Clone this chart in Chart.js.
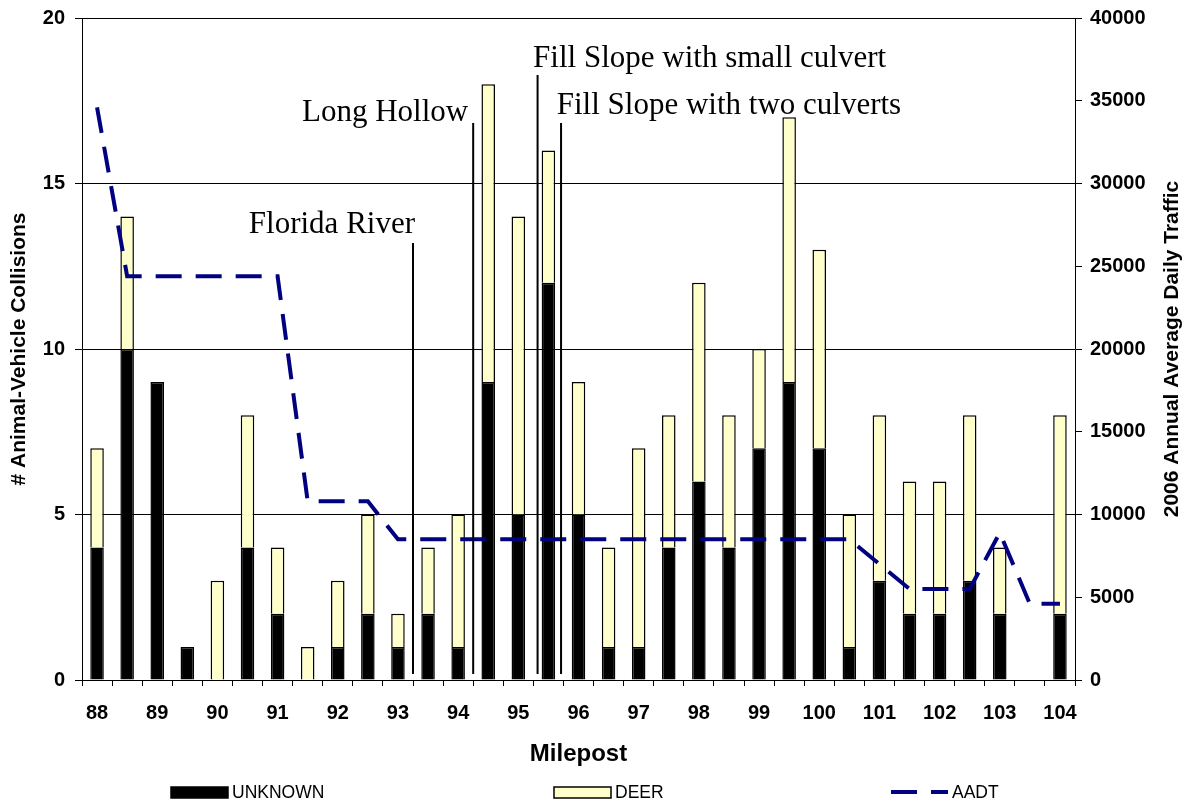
<!DOCTYPE html>
<html><head><meta charset="utf-8">
<script src="https://cdn.jsdelivr.net/npm/chart.js@4.4.0/dist/chart.umd.min.js"></script>
<style>
html,body{margin:0;padding:0;background:#fff;}
canvas{display:block;}
</style></head><body>
<canvas id="c" width="1185" height="803"></canvas>
<script>
// ---- data ----
const mileposts = ['88','88.5','89','89.5','90','90.5','91','91.5','92','92.5','93','93.5','94','94.5','95','95.5','96','96.5','97','97.5','98','98.5','99','99.5','100','100.5','101','101.5','102','102.5','103','103.5','104'];
const unknownCounts = [4,10,9,1,0,4,2,0,1,2,1,2,1,9,5,12,5,1,1,4,6,4,7,9,7,1,3,2,2,3,2,0,2];
const deerCounts    = [3,4,0,0,3,4,2,1,2,3,1,2,4,9,9,4,4,3,6,4,6,4,3,8,6,4,5,4,4,5,2,0,6];
const aadtValues    = [34600,24400,24400,24400,24400,24400,24400,10800,10800,10800,8500,8500,8500,8500,8500,8500,8500,8500,8500,8500,8500,8500,8500,8500,8500,8500,7000,5500,5500,5500,8900,4600,4600];
const leftTicks  = [0,5,10,15,20];
const rightTicks = [0,5000,10000,15000,20000,25000,30000,35000,40000];
const siteLabels    = ['Florida River','Long Hollow','Fill Slope with small culvert','Fill Slope with two culverts'];
const siteMileposts = [93.25, 94.25, 95.32, 95.71];
const siteTops      = [13.2, 16.83, 18.28, 16.83];
const siteBottom    = 0.18;

const SANS = '"Liberation Sans", Arial, sans-serif';
const SERIF = '"Liberation Serif", "Times New Roman", serif';
const NAVY = '#000080';
const DEER = '#FFFFCC';

const siteLabelStyle = [
  {align:'right', dx: 2, dy: -10},
  {align:'right', dx: -5, dy: -2},
  {align:'left', dx: -4.5, dy: -8},
  {align:'left', dx: -4.3, dy: -9}
];

const annotationPlugin = {
  id: 'sites',
  afterDatasetsDraw(chart) {
    const ctx = chart.ctx, xs = chart.scales.x, ys = chart.scales.y;
    const first = parseFloat(mileposts[0]), step = parseFloat(mileposts[1]) - first;
    ctx.save();
    ctx.strokeStyle = '#000';
    ctx.lineWidth = 2;
    ctx.fillStyle = '#000';
    ctx.font = '31px ' + SERIF;
    ctx.textBaseline = 'alphabetic';
    siteLabels.forEach((lab, i) => {
      const x = xs.getPixelForValue((siteMileposts[i] - first) / step);
      const yTop = ys.getPixelForValue(siteTops[i]);
      const yBot = ys.getPixelForValue(siteBottom);
      ctx.beginPath();
      ctx.moveTo(x, yTop);
      ctx.lineTo(x, yBot);
      ctx.stroke();
      const st = siteLabelStyle[i];
      ctx.textAlign = st.align;
      ctx.fillText(lab, x + st.dx, yTop + st.dy);
    });
    ctx.restore();
  }
};

const extrasPlugin = {
  id: 'extras',
  afterDraw(chart) {
    const ctx = chart.ctx, ca = chart.chartArea;
    ctx.save();
    // right axis title, reading bottom-to-top
    ctx.translate(1172, (ca.top + ca.bottom) / 2);
    ctx.rotate(-Math.PI / 2);
    ctx.font = 'bold 21px ' + SANS;
    ctx.fillStyle = '#000';
    ctx.textAlign = 'center';
    ctx.textBaseline = 'middle';
    ctx.fillText('2006 Annual Average Daily Traffic', 0, 0);
    ctx.restore();

    // legend
    const items = [
      {x: 171, ds: chart.data.datasets[1]},
      {x: 554, ds: chart.data.datasets[2]},
      {x: 891, ds: chart.data.datasets[0]}
    ];
    ctx.save();
    ctx.font = '17.5px ' + SANS;
    ctx.textBaseline = 'alphabetic';
    ctx.textAlign = 'left';
    items.forEach(it => {
      const ds = it.ds;
      if (ds.type === 'line') {
        ctx.strokeStyle = ds.borderColor;
        ctx.lineWidth = ds.borderWidth;
        ctx.setLineDash(ds.borderDash);
        ctx.beginPath();
        ctx.moveTo(it.x, 792);
        ctx.lineTo(it.x + 57, 792);
        ctx.stroke();
        ctx.setLineDash([]);
      } else {
        ctx.fillStyle = ds.backgroundColor;
        ctx.fillRect(it.x, 787, 57, 11);
        ctx.strokeStyle = '#000';
        ctx.lineWidth = 1.5;
        ctx.strokeRect(it.x, 787, 57, 11);
      }
      ctx.fillStyle = '#000';
      ctx.fillText(ds.label, it.x + 61, 798);
    });
    ctx.restore();
  }
};

new Chart(document.getElementById('c'), {
  data: {
    labels: mileposts,
    datasets: [
      {type:'line', label:'AADT', data: aadtValues, yAxisID:'y1', borderColor: NAVY, borderWidth: 4,
       borderDash:[26,14], borderCapStyle:'butt', pointRadius:0, tension:0, fill:false, order:0},
      {type:'bar', label:'UNKNOWN', data: unknownCounts, yAxisID:'y', backgroundColor:'#000', borderColor:'#000',
       borderWidth:1.5, stack:'s', order:1, categoryPercentage:1, barPercentage:0.45},
      {type:'bar', label:'DEER', data: deerCounts, yAxisID:'y', backgroundColor: DEER, borderColor:'#000',
       borderWidth:1.5, stack:'s', order:1, categoryPercentage:1, barPercentage:0.45}
    ]
  },
  options: {
    responsive:false,
    animation:false,
    devicePixelRatio:1,
    layout:{padding:{top:18, left:0, right:0, bottom:0}},
    plugins:{legend:{display:false}, tooltip:{enabled:false}},
    scales:{
      x:{
        type:'category', stacked:true, offset:true,
        grid:{offset:true, drawOnChartArea:false, color:'#000', tickLength:6, lineWidth:1},
        border:{color:'#000', width:1},
        ticks:{font:{family:SANS, size:20, weight:'bold'}, color:'#000', autoSkip:false, maxRotation:0, minRotation:0, padding:15,
          callback:function(v, i){ const l = mileposts[i]; return Number.isInteger(parseFloat(l)) ? l : ''; }},
        title:{display:true, text:'Milepost', color:'#000', font:{family:SANS, size:24, weight:'bold'}, padding:{top:0, bottom:34}},
        afterFit(s){ s.height = 123; s.paddingLeft = 0; s.paddingRight = 0; }
      },
      y:{
        position:'left', stacked:true, min:0, max:20,
        afterBuildTicks(s){ s.ticks = leftTicks.map(v => ({value:v})); },
        grid:{color:'#000', tickLength:7, lineWidth:1},
        border:{color:'#000', width:1},
        ticks:{font:{family:SANS, size:20, weight:'bold'}, color:'#000', padding:10},
        title:{display:true, text:'# Animal-Vehicle Collisions', color:'#000', font:{family:SANS, size:21, weight:'bold'}, padding:{top:7, bottom:0}},
        afterFit(s){ s.width = 82; s.paddingTop = 0; s.paddingBottom = 0; }
      },
      y1:{
        position:'right', min:0, max:40000,
        afterBuildTicks(s){ s.ticks = rightTicks.map(v => ({value:v})); },
        grid:{drawOnChartArea:false, color:'#000', tickLength:7, lineWidth:1},
        border:{color:'#000', width:1},
        ticks:{font:{family:SANS, size:20, weight:'bold'}, color:'#000', padding:8,
          callback:function(v){ return String(v); }},
        title:{display:false},
        afterFit(s){ s.width = 110; s.paddingTop = 0; s.paddingBottom = 0; }
      }
    }
  },
  plugins:[annotationPlugin, extrasPlugin]
});
</script>
</body></html>
